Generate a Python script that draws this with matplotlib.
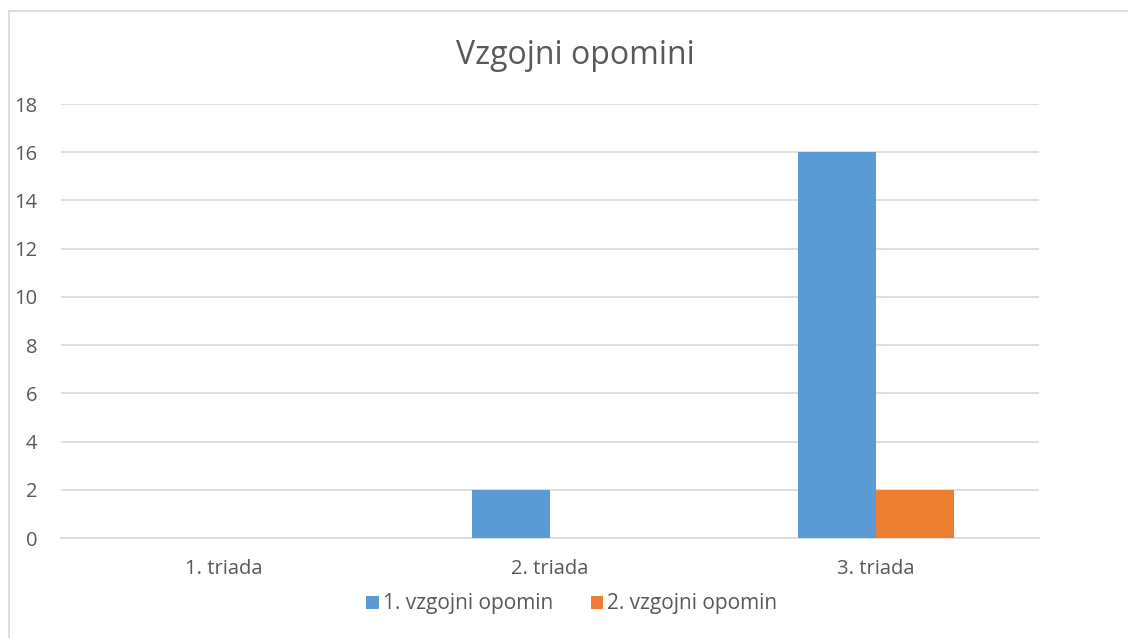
import numpy as np
import matplotlib.pyplot as plt
from matplotlib.patches import Rectangle

plt.rcParams['font.family'] = ['Open Sans', 'DejaVu Sans']

categories = ["1. triada", "2. triada", "3. triada"]
series_names = ["1. vzgojni opomin", "2. vzgojni opomin"]
first_warning = [0, 2, 16]
second_warning = [0, 0, 2]

blue = '#5B9BD5'
orange = '#ED7D31'
text_col = '#595959'
grid_col = '#D9D9D9'

fig = plt.figure(figsize=(11.28, 6.38), dpi=100)
ax = fig.add_axes([61/1128, 100/638, 978/1128, 434/638])

x = np.arange(len(categories))
width = 0.239
ax.bar(x - width/2, first_warning, width, color=blue, label=series_names[0], zorder=3)
ax.bar(x + width/2, second_warning, width, color=orange, label=series_names[1], zorder=3)

ax.set_xlim(-0.5, 2.5)
ax.set_ylim(0, 18)
ax.set_yticks(np.arange(0, 19, 2))
ax.set_xticks(x)
ax.set_xticklabels(categories)
ax.yaxis.grid(True, color=grid_col, linewidth=1.2, zorder=0)
ax.set_axisbelow(True)
for s in ['top', 'right', 'left']:
    ax.spines[s].set_visible(False)
ax.spines['bottom'].set_color(grid_col)
ax.spines['bottom'].set_linewidth(1.2)
ax.tick_params(axis='both', length=0, colors=text_col, labelsize=14.5)
ax.tick_params(axis='y', pad=17)
ax.tick_params(axis='x', pad=15)

fig.text(575/1128, 1 - 55/638, "Vzgojni opomini", ha='center', va='center',
         fontsize=23, color=text_col)

leg = fig.legend(loc='center', bbox_to_anchor=(572/1128, 1 - 604/638), ncol=2,
                 frameon=False, fontsize=15, handlelength=0.6, handleheight=0.6,
                 handletextpad=0.2, columnspacing=1.8)
for t in leg.get_texts():
    t.set_color(text_col)

# chart border (cropped on the right and bottom)
fig.patches.append(Rectangle((9/1128, -0.1), 1.2, 1.1 - 11/638,
                             transform=fig.transFigure, fill=False,
                             edgecolor='#D9D9D9', linewidth=1.2))

fig.savefig('out.png', dpi=100)
